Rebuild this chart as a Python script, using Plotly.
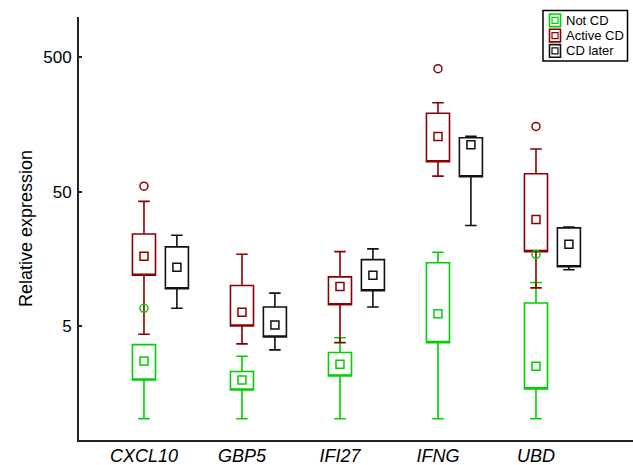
import plotly.graph_objects as go

genes = ["CXCL10", "GBP5", "IFI27", "IFNG", "UBD"]
groups = ["Not CD", "Active CD", "CD later"]

# Not CD
notcd_lower = [1.02, 1.02, 1.02, 1.02, 1.02]
notcd_q1 = [1.98, 1.67, 2.12, 3.76, 1.70]
notcd_q3 = [3.63, 2.29, 3.17, 14.8, 7.41]
notcd_upper = [3.63, 2.98, 4.09, 17.7, 10.55]
notcd_mean = [2.74, 1.98, 2.60, 6.17, 2.51]
notcd_out_gene = ["CXCL10", "UBD"]
notcd_out_val = [6.77, 17.1]

# Active CD
active_lower = [4.34, 3.68, 3.76, 65.3, 9.62]
active_q1 = [11.95, 5.0, 7.2, 83.5, 17.9]
active_q3 = [24.2, 10.0, 11.6, 192, 68.0]
active_upper = [42.4, 17.1, 17.9, 230, 104]
active_mean = [16.5, 6.32, 9.86, 129, 31.0]
active_out_gene = ["CXCL10", "IFNG", "UBD"]
active_out_val = [55.0, 412, 153]

# CD later
later_lower = [6.77, 3.32, 6.92, 28.0, 13.1]
later_q1 = [9.46, 4.14, 9.14, 64.6, 13.8]
later_q3 = [19.4, 6.92, 15.6, 126, 26.9]
later_upper = [23.7, 8.79, 18.75, 129.5, 27.3]
later_mean = [13.7, 5.09, 11.95, 112, 20.3]
later_out_gene = []
later_out_val = []

ytick_vals = [5, 50, 500]

colors = ["#00d000", "#8b0000", "#111111"]
series = [
    (groups[0], notcd_lower, notcd_q1, notcd_q3, notcd_upper, notcd_mean, notcd_out_gene, notcd_out_val, colors[0], 0.0),
    (groups[1], active_lower, active_q1, active_q3, active_upper, active_mean, active_out_gene, active_out_val, colors[1], 0.0),
    (groups[2], later_lower, later_q1, later_q3, later_upper, later_mean, later_out_gene, later_out_val, colors[2], 0.336),
]

fig = go.Figure()
for name, lo, q1, q3, hi, mean, og, ov, col, off in series:
    xs = [i + off for i in range(len(genes))]
    fig.add_trace(go.Box(
        name=name, x=xs, q1=q1, median=q1, q3=q3,
        lowerfence=lo, upperfence=hi,
        width=0.235, whiskerwidth=0.5,
        line=dict(color=col, width=1.6),
        fillcolor="rgba(0,0,0,0)",
        boxpoints=False, hoverinfo="skip", showlegend=False,
    ))
    fig.add_trace(go.Scatter(
        x=xs, y=mean, mode="markers", showlegend=False,
        marker=dict(symbol="square-open", size=8, color=col, line=dict(width=1.5, color=col)),
        hoverinfo="skip",
    ))
    if ov:
        ox = [genes.index(g) + off for g in og]
        fig.add_trace(go.Scatter(
            x=ox, y=ov, mode="markers", showlegend=False,
            marker=dict(symbol="circle-open", size=8, color=col, line=dict(width=1.5, color=col)),
            hoverinfo="skip",
        ))

# plot area in pixels (for placing the legend box)
L, R, T, B = 79, 633, 17, 440
def px(x):
    return (x - L) / (R - L)
def py(y):
    return (B - y) / (B - T)

shapes = [dict(type="rect", xref="paper", yref="paper",
               x0=px(543), x1=px(627.5), y0=py(61), y1=py(10.5),
               line=dict(color="black", width=1.5), fillcolor="white", layer="above")]
annotations = []
for k, (name, col) in enumerate(zip(groups, colors)):
    cy = 20.3 + k * 15.3
    shapes.append(dict(type="rect", xref="paper", yref="paper",
                       x0=px(549.5), x1=px(560.5), y0=py(cy + 6.3), y1=py(cy - 6.3),
                       line=dict(color=col, width=1.6), fillcolor="white", layer="above"))
    shapes.append(dict(type="rect", xref="paper", yref="paper",
                       x0=px(552), x1=px(558), y0=py(cy + 3), y1=py(cy - 3),
                       line=dict(color=col, width=1.2), fillcolor="white", layer="above"))
    annotations.append(dict(text=name, xref="paper", yref="paper", x=px(564), y=py(cy),
                            xanchor="left", yanchor="middle", showarrow=False,
                            font=dict(size=13, color="black")))

fig.update_layout(
    width=633, height=465,
    margin=dict(l=79, r=0, t=17, b=25),
    paper_bgcolor="white", plot_bgcolor="white",
    font=dict(family="Liberation Sans, Arial, sans-serif", color="black"),
    showlegend=False,
    shapes=shapes, annotations=annotations,
    xaxis=dict(
        range=[-0.663, 4.99], tickmode="array",
        tickvals=list(range(len(genes))),
        ticktext=[f"<i>{g}</i>" for g in genes],
        showgrid=False, zeroline=False, showline=True,
        linecolor="#222", linewidth=1.8, ticks="",
        tickfont=dict(size=18), automargin=False, ticklabelstandoff=-2,
    ),
    yaxis=dict(
        type="log", range=[-0.15, 3.0],
        tickmode="array", tickvals=ytick_vals,
        ticktext=[str(v) for v in ytick_vals],
        showgrid=False, zeroline=False, showline=True,
        linecolor="#222", linewidth=1.8, ticks="inside", ticklen=3,
        tickcolor="#222", tickwidth=1.5,
        tickfont=dict(size=17), ticklabelstandoff=2,
        title=dict(text="Relative expression", font=dict(size=18), standoff=6),
        automargin=False,
    ),
)

fig.write_html("out.html", config={"displayModeBar": False},
               post_script="document.body.style.margin='0px';")
